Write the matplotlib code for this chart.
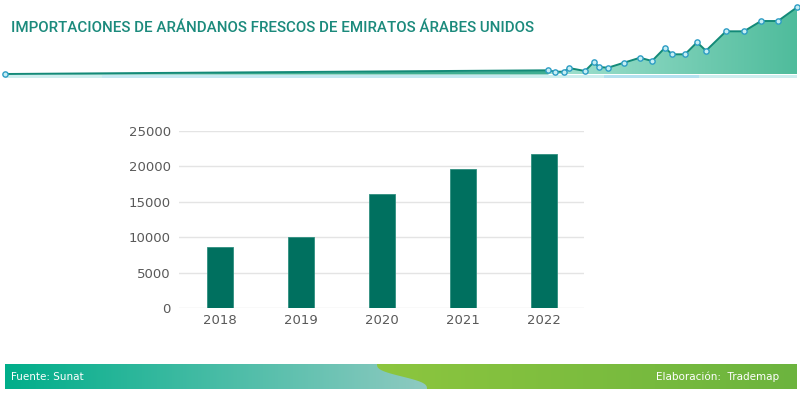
import numpy as np
import matplotlib
matplotlib.use('Agg')
import matplotlib.pyplot as plt
from matplotlib.patches import Polygon, Rectangle
from matplotlib.colors import to_rgb

# datos del grafico
years = ['2018', '2019', '2020', '2021', '2022']
imports = [8600, 10050, 16100, 19700, 21800]
y_ticks = [0, 5000, 10000, 15000, 20000, 25000]

title = 'IMPORTACIONES DE ARÁNDANOS FRESCOS DE EMIRATOS ÁRABES UNIDOS'
source_txt = 'Fuente: Sunat'
credit_txt = 'Elaboración:  Trademap'

# linea decorativa de la cabecera (x en px, altura sobre la base)
header_x = [5, 548, 555, 564, 569, 585, 594, 599, 608, 624, 640, 652, 665, 672, 685, 697, 706, 726, 744, 761, 778, 797]
header_v = [0, 3.7, 2.3, 2.3, 6, 3, 12, 7, 6.3, 11.3, 16.3, 13, 26.3, 19.7, 19.7, 31.7, 23.3, 42.7, 42.7, 53, 53, 66.7]

fig = plt.figure(figsize=(8, 3.96), dpi=100)

# capa de fondo en pixeles
bg = fig.add_axes([0, 0, 1, 1], zorder=0)
bg.set_xlim(0, 800)
bg.set_ylim(396, 0)
bg.axis('off')

base = 74
hx = np.array(header_x, dtype=float)
hy = base - np.array(header_v)

# banda clara bajo la linea
bg.add_patch(Rectangle((5, 74.5), 792, 3.5, color='#cdeeee', lw=0))
bg.add_patch(Rectangle((102, 74.5), 408, 3.5, color='#c3e8f1', lw=0))
bg.add_patch(Rectangle((604, 74.5), 95, 3.5, color='#b3e1ef', lw=0))

# area rellena con degradado
poly = Polygon(np.column_stack([np.r_[hx, hx[-1], hx[0]], np.r_[hy, base, base]]),
               closed=True, fc='none', ec='none')
bg.add_patch(poly)
grad = np.linspace(0, 1, 256)
c1, c2 = np.array(to_rgb('#a6e3d2')), np.array(to_rgb('#4fbc9c'))
img = (c1[None, :] * (1 - grad[:, None]) + c2[None, :] * grad[:, None])[None, :, :]
im = bg.imshow(img, extent=(540, 797, base, 5), aspect='auto', zorder=1)
im.set_clip_path(poly)
bg.fill_between(hx[:2], hy[:2], base, color='#3fae92', lw=0, zorder=1)

bg.plot(hx, hy, color='#138a78', lw=1.4, zorder=2)
bg.plot(hx, hy, 'o', ms=3.8, mfc='#c6eef4', mec='#2d9dc4', mew=1, zorder=3)

ttl = bg.text(11, 28, title, color='#1b8a7c', fontsize=10, fontweight='medium',
              family=['Roboto', 'DejaVu Sans'], va='center', ha='left')
# ajustar el tamaño del titulo al ancho del original (~522 px)
fig.canvas.draw()
w = ttl.get_window_extent().width
ttl.set_fontsize(10 * 522 / w)

# pie de pagina
fy0, fy1 = 364, 389
t = np.linspace(0, 1, 512)
a, b = np.array(to_rgb('#00ae8a')), np.array(to_rgb('#8fcac1'))
img1 = (a[None, :] * (1 - t[:, None]) + b[None, :] * t[:, None])[None, :, :]
bg.imshow(img1, extent=(5, 430, fy1, fy0), aspect='auto', zorder=1)
g1, g2 = np.array(to_rgb('#8dc63f')), np.array(to_rgb('#6cb43e'))
img2 = (g1[None, :] * (1 - t[:, None]) + g2[None, :] * t[:, None])[None, :, :]
s = np.linspace(0, 1, 40)
cx = 377 + 50 * (s - np.sin(2 * np.pi * s) / (2 * np.pi))
cy = fy0 + (fy1 - fy0) * s
green = Polygon(np.column_stack([np.r_[cx, 797, 797], np.r_[cy, fy1, fy0]]),
                closed=True, fc='none', ec='none')
bg.add_patch(green)
im2 = bg.imshow(img2, extent=(370, 797, fy1, fy0), aspect='auto', zorder=2)
im2.set_clip_path(green)
bg.text(11, 377, source_txt, color='white', fontsize=7.5, va='center', ha='left', zorder=3)
bg.text(779, 377, credit_txt, color='white', fontsize=7.5, va='center', ha='right', zorder=3)

# grafico de barras
ax = fig.add_axes([179 / 800, 88 / 396, 405 / 800, 177 / 396], zorder=1)
ax.patch.set_alpha(0)
x = np.arange(len(years))
ax.bar(x, imports, width=0.315, color='#00705f', edgecolor='#2f8f80', lw=0.6, zorder=2)
ax.set_xlim(-0.506, 4.494)
ax.set_ylim(0, 25000)
ax.set_yticks(y_ticks)
ax.set_xticks(x)
ax.set_xticklabels(years)
ax.grid(axis='y', color='#e4e4e4', lw=1, zorder=0)
for sp in ax.spines.values():
    sp.set_visible(False)
ax.tick_params(length=0, labelsize=9.5, labelcolor='#595959')
ax.tick_params(axis='y', pad=6)
ax.tick_params(axis='x', pad=4)

fig.savefig('out.png', dpi=100)
